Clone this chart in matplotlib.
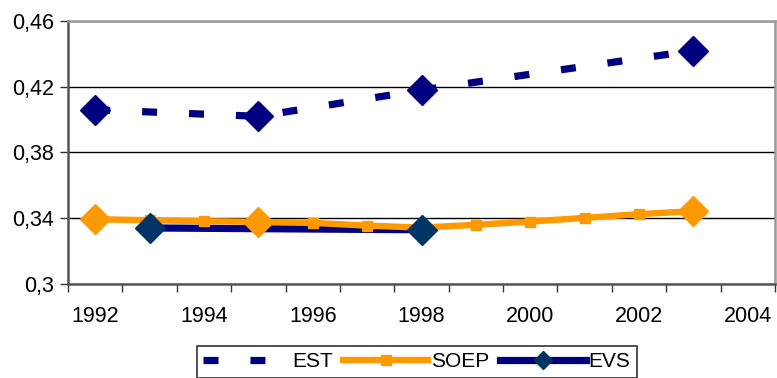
import matplotlib
matplotlib.use('Agg')
import matplotlib.pyplot as plt
from matplotlib.lines import Line2D

plt.rcParams['font.family'] = ['Liberation Sans', 'DejaVu Sans']
plt.rcParams['lines.scale_dashes'] = False

years = list(range(1992, 2005))
xlabels = ['1992', '1994', '1996', '1998', '2000', '2002', '2004']

est_years = [1992, 1995, 1998, 2003]
est_vals = [0.406, 0.402, 0.418, 0.442]

soep_years = [1992, 1993, 1994, 1995, 1996, 1997, 1998, 1999, 2000, 2001, 2002, 2003]
soep_vals = [0.3394, 0.3388, 0.3382, 0.3378, 0.3372, 0.3355, 0.3343, 0.336, 0.338, 0.3402, 0.3425, 0.3443]
soep_big_years = [1992, 1995, 2003]
soep_big_vals = [0.3394, 0.3378, 0.3443]

evs_years = [1993, 1998]
evs_vals = [0.3341, 0.333]

navy = '#000080'
orange = '#FF9900'
evs_mark = '#003366'

fig = plt.figure(figsize=(7.77, 3.78), dpi=100)
ax = fig.add_axes([68/777, 1-284/378, 707/777, 263/378])

ax.plot(evs_years, evs_vals, color=navy, lw=5.2, solid_capstyle='butt', zorder=3)
ax.plot(evs_years, evs_vals, ls='none', marker='D', ms=15, color=evs_mark, zorder=6)

ax.plot(soep_years, soep_vals, color=orange, lw=4.6, marker='s', ms=7, zorder=4)
ax.plot(soep_big_years, soep_big_vals, ls='none', marker='D', ms=15, color=orange, zorder=5)

ax.plot(est_years, est_vals, color=navy, lw=5.2, ls=(0, (10.8, 23)), dash_capstyle='butt', zorder=4)
ax.plot(est_years, est_vals, ls='none', marker='D', ms=15, color=navy, zorder=5)

ax.set_xlim(1991.5, 2004.5)
ax.set_ylim(0.3, 0.46)
ax.set_yticks([0.3, 0.34, 0.38, 0.42, 0.46])
ax.set_yticklabels(['0,3', '0,34', '0,38', '0,42', '0,46'], fontsize=15.5)
ax.set_xticks([int(t) for t in xlabels])
ax.set_xticklabels(xlabels, fontsize=15.5)
ax.set_xticks([y - 0.5 for y in years] + [2004.5], minor=True)
ax.tick_params(axis='x', which='major', length=0, pad=16)
ax.tick_params(axis='x', which='minor', length=6, width=1, color='#333333', direction='out')
ax.tick_params(axis='y', length=6, width=1, color='#333333', direction='out', pad=4)
ax.grid(axis='y', color='black', lw=1)
ax.set_axisbelow(True)
for s in ['left', 'bottom']:
    ax.spines[s].set_color('#555555')
    ax.spines[s].set_linewidth(1.8)
for s in ['top', 'right']:
    ax.spines[s].set_color('#999999')
    ax.spines[s].set_linewidth(1.8)

handles = [
    Line2D([], [], color=navy, lw=5.2, ls=(0, (10.8, 23)), dash_capstyle='butt'),
    Line2D([], [], color=orange, lw=4.6, marker='s', ms=7),
    Line2D([], [], color=navy, lw=5.2, marker='D', ms=9, mfc=evs_mark, mec=evs_mark),
]
leg = fig.legend(handles, ['EST', 'SOEP', 'EVS'], loc='upper left',
                 bbox_to_anchor=(197/777, 1-346/378), ncol=3, fontsize=15,
                 frameon=True, fancybox=False, edgecolor='black', handlelength=4.1,
                 handletextpad=0.15, columnspacing=0.5, borderpad=0.3,
                 borderaxespad=0)
leg.get_frame().set_linewidth(1.2)

fig.savefig('out.png', dpi=100)
